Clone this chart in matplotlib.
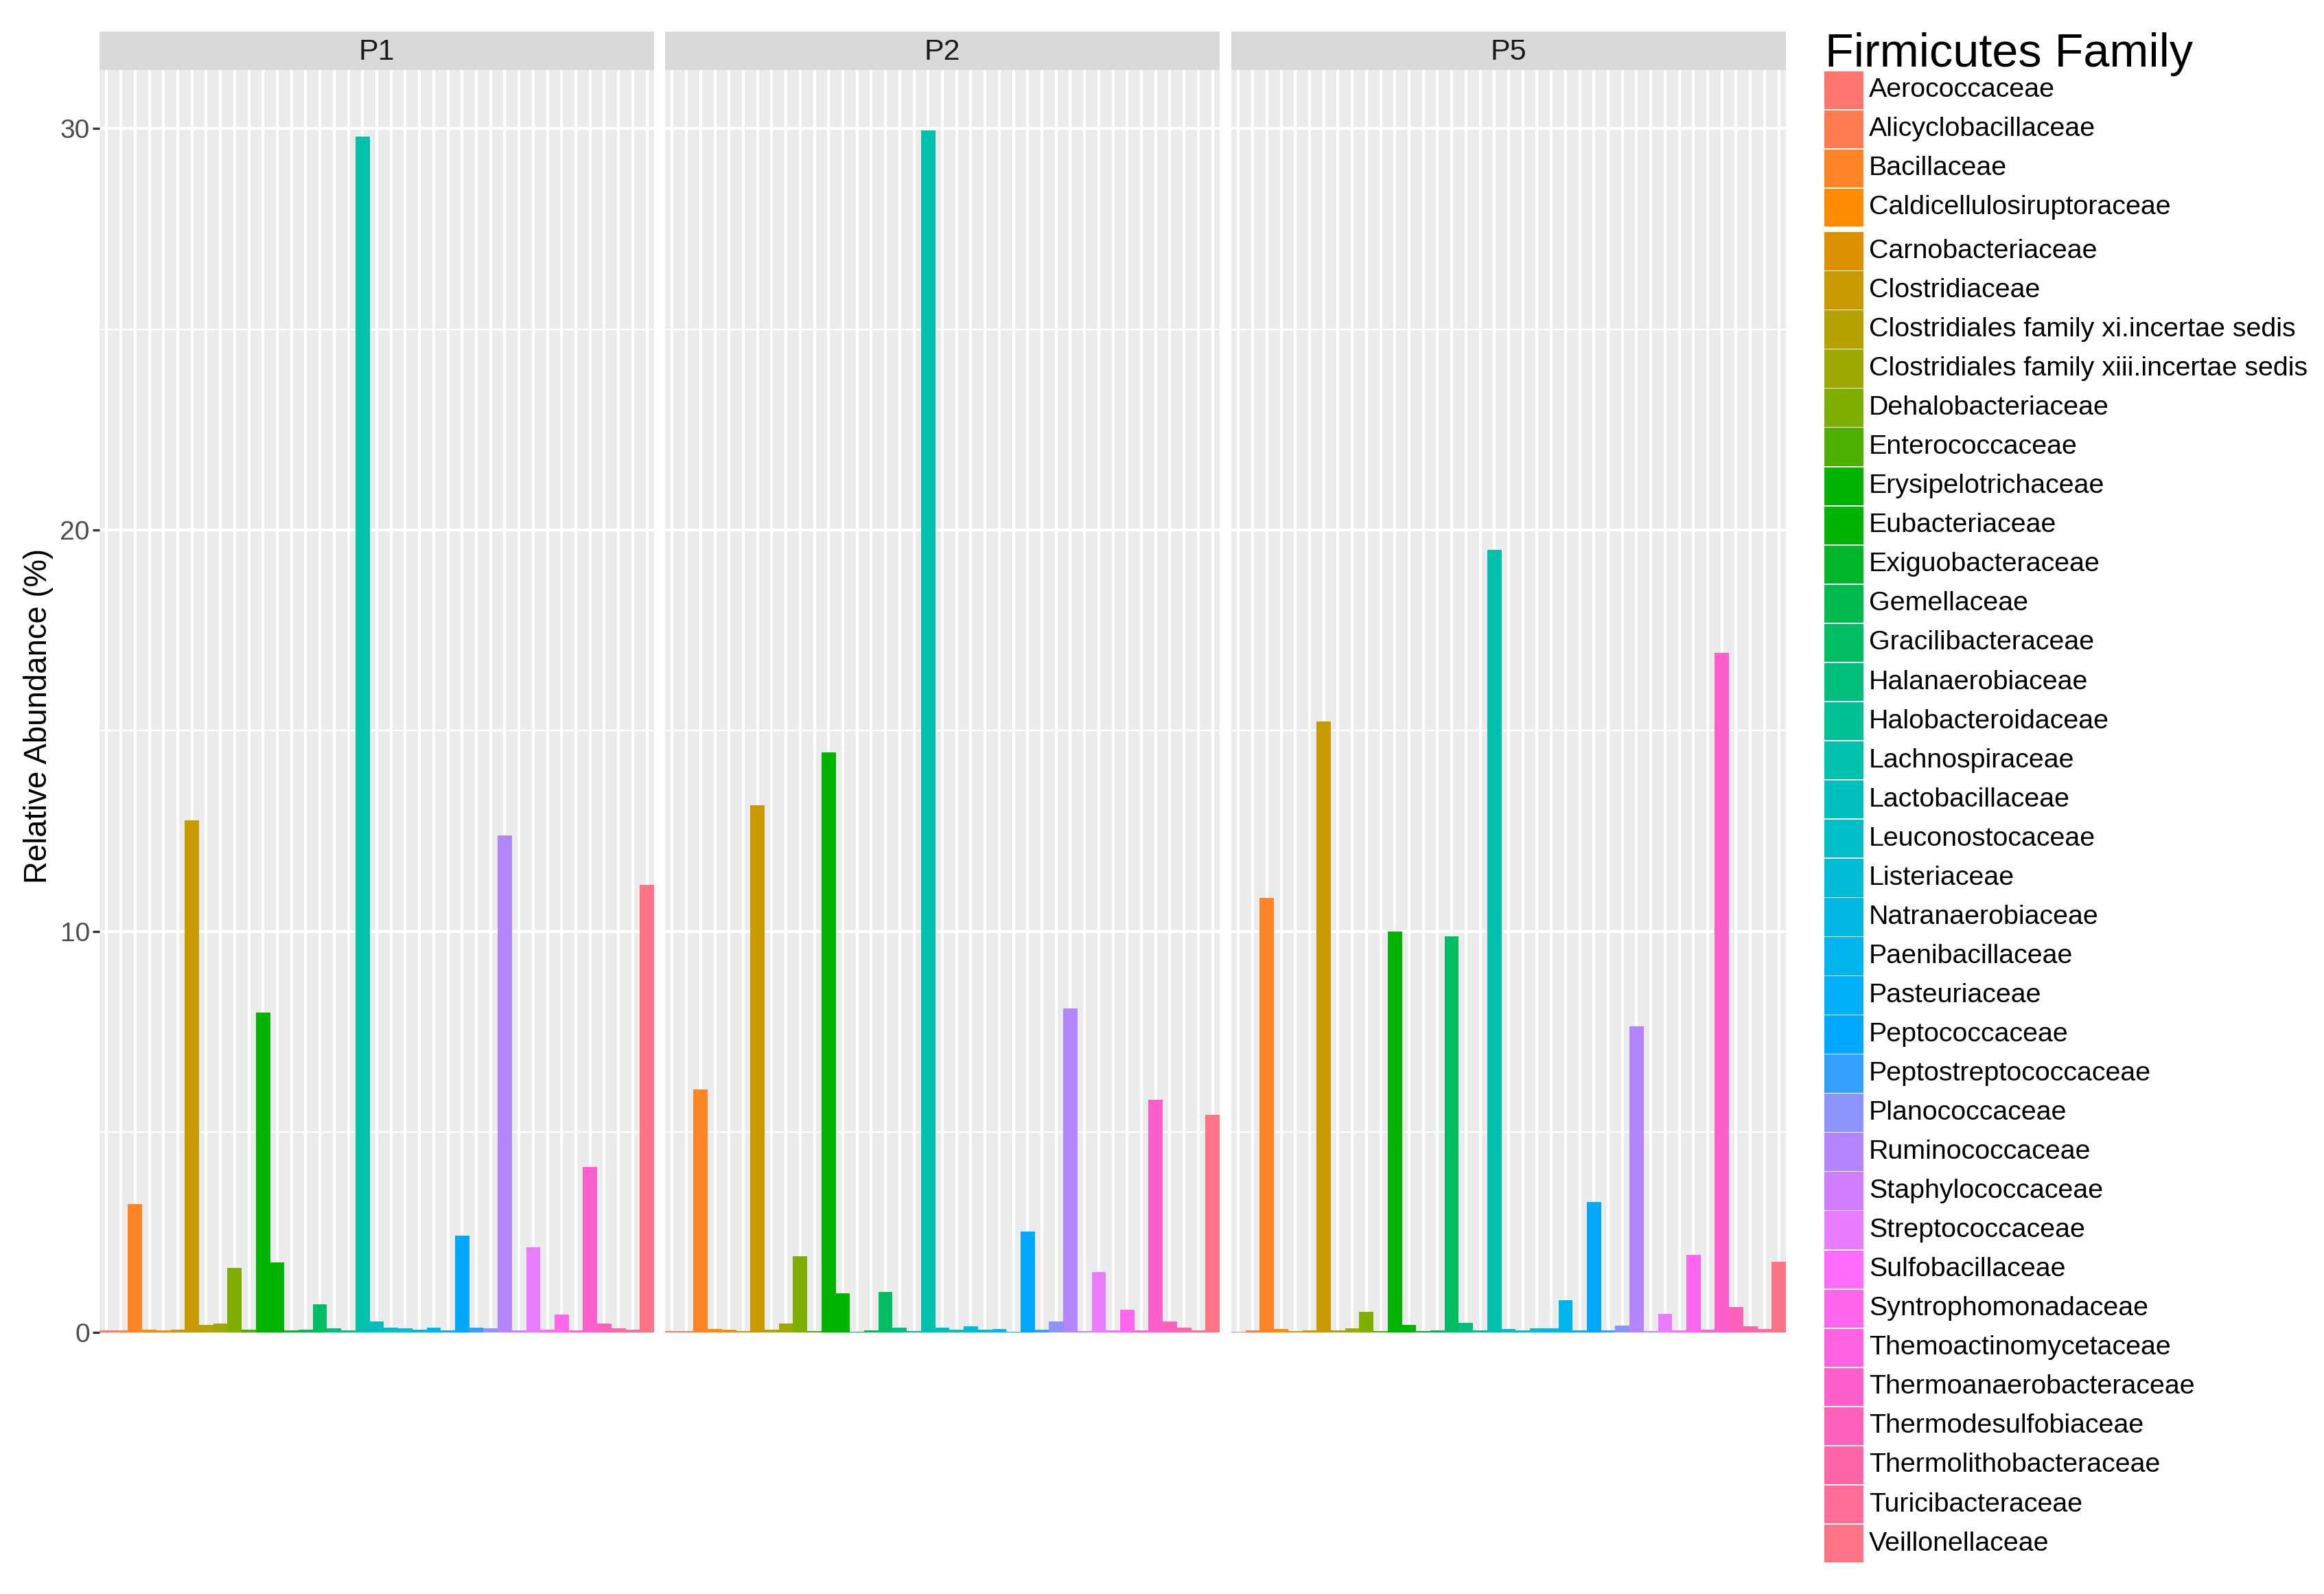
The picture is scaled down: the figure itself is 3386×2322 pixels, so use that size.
import numpy as np
import matplotlib
matplotlib.use("Agg")
import matplotlib.pyplot as plt
from matplotlib.patches import Rectangle

plt.rcParams['font.family'] = ['Liberation Sans', 'DejaVu Sans']

# legend families (fill levels shown in the legend)
families = [
    "Aerococcaceae", "Alicyclobacillaceae", "Bacillaceae", "Caldicellulosiruptoraceae",
    "Carnobacteriaceae", "Clostridiaceae", "Clostridiales family xi.incertae sedis",
    "Clostridiales family xiii.incertae sedis", "Dehalobacteriaceae", "Enterococcaceae",
    "Erysipelotrichaceae", "Eubacteriaceae", "Exiguobacteraceae", "Gemellaceae",
    "Gracilibacteraceae", "Halanaerobiaceae", "Halobacteroidaceae", "Lachnospiraceae",
    "Lactobacillaceae", "Leuconostocaceae", "Listeriaceae", "Natranaerobiaceae",
    "Paenibacillaceae", "Pasteuriaceae", "Peptococcaceae", "Peptostreptococcaceae",
    "Planococcaceae", "Ruminococcaceae", "Staphylococcaceae", "Streptococcaceae",
    "Sulfobacillaceae", "Syntrophomonadaceae", "Themoactinomycetaceae",
    "Thermoanaerobacteraceae", "Thermodesulfobiaceae", "Thermolithobacteraceae",
    "Turicibacteraceae", "Veillonellaceae",
]
family_colors = [
    "#FF766F", "#FF7C50", "#FF8425", "#FF8C00", "#DB9000", "#C89A00", "#B5A100",
    "#9DA800", "#7DAE00", "#4DB000", "#00B400", "#00B400", "#00B72A", "#00BA4D",
    "#00BC63", "#00BE7C", "#00C096", "#00C1AC", "#00BFBF", "#00BFC9", "#00BCD6",
    "#00B9E3", "#00B4EE", "#00AFF8", "#00A8FF", "#33A0FF", "#8B93FF", "#B385FF",
    "#D07EFF", "#E87BFF", "#FF6BFA", "#FF66EE", "#FF62E0", "#FF5FCD", "#FF62BA",
    "#FF66A8", "#FF6C97", "#FF7386",
]
# x levels on the axis: one unlabelled level sits after Caldicellulosiruptoraceae
x_levels = families[:4] + [""] + families[4:]
x_colors = family_colors[:4] + ["#EE8E00"] + family_colors[4:]

panels = ["P1", "P2", "P5"]

p1 = [0.06, 0.06, 3.2, 0.08, 0.06, 0.08, 12.76, 0.19, 0.23, 1.62,
      0.08, 7.98, 1.75, 0.06, 0.08, 0.71, 0.10, 0.06, 29.8, 0.27,
      0.13, 0.10, 0.08, 0.13, 0.06, 2.42, 0.13, 0.11, 12.39, 0.06,
      2.12, 0.08, 0.45, 0.06, 4.12, 0.23, 0.10, 0.08, 11.15]
p2 = [0.03, 0.03, 6.06, 0.09, 0.08, 0.03, 13.14, 0.08, 0.22, 1.9,
      0.03, 14.45, 0.98, 0.02, 0.06, 1.02, 0.13, 0.04, 29.95, 0.13,
      0.07, 0.15, 0.07, 0.09, 0.02, 2.52, 0.07, 0.28, 8.07, 0.04,
      1.51, 0.06, 0.57, 0.06, 5.81, 0.28, 0.13, 0.06, 5.42]
p5 = [0.02, 0.05, 10.84, 0.09, 0.03, 0.05, 15.23, 0.06, 0.10, 0.52,
      0.04, 9.99, 0.20, 0.03, 0.06, 9.88, 0.24, 0.06, 19.51, 0.09,
      0.06, 0.10, 0.10, 0.81, 0.06, 3.25, 0.06, 0.17, 7.64, 0.04,
      0.46, 0.06, 1.94, 0.08, 16.93, 0.63, 0.15, 0.09, 1.77]
values = [p1, p2, p5]

y_ticks = [0, 10, 20, 30]

W, H = 3387, 2322
fig = plt.figure(figsize=(W / 200, H / 200), dpi=200)

panel_left = [145, 969, 1794]
panel_w = 808
top_px, bottom_px, strip_px = 102, 1943, 56

n = len(x_levels)
xpos = np.arange(n)
for k, name in enumerate(panels):
    left = panel_left[k] / W
    ax = fig.add_axes([left, 1 - bottom_px / H, panel_w / W, (bottom_px - top_px) / H])
    ax.set_facecolor('#EBEBEB')
    ax.bar(xpos, values[k], width=1.0, color=x_colors, edgecolor='none', zorder=3)
    ax.set_xlim(-0.5, n - 0.5)
    ax.set_ylim(-0.03, 31.46)
    ax.set_xticks(xpos)
    ax.set_xticklabels([])
    ax.tick_params(axis='x', length=0)
    ax.set_yticks(y_ticks)
    ax.set_yticks([5, 15, 25], minor=True)
    ax.grid(True, which='major', color='white', linewidth=1.5, zorder=1)
    ax.grid(True, which='minor', axis='y', color='white', linewidth=0.8, zorder=1)
    for s in ax.spines.values():
        s.set_visible(False)
    if k == 0:
        ax.tick_params(axis='y', which='major', length=3.6, width=1.2, color='#333333',
                       labelsize=14, labelcolor='#4D4D4D', pad=1.5)
    else:
        ax.tick_params(axis='y', which='major', length=0, labelleft=False)
    ax.tick_params(axis='y', which='minor', length=0)

    sax = fig.add_axes([left, 1 - top_px / H, panel_w / W, strip_px / H])
    sax.set_facecolor('#D9D9D9')
    sax.set_xticks([])
    sax.set_yticks([])
    for s in sax.spines.values():
        s.set_visible(False)
    sax.text(0.5, 0.47, name, ha='center', va='center', fontsize=15.5, color='#1A1A1A',
             transform=sax.transAxes)

fig.text(56 / W, 1 - 1043 / H, 'Relative Abundance (%)', rotation=90, ha='center',
         va='center', fontsize=16.4, color='black')

# legend drawn in pixel coordinates
lax = fig.add_axes([2640 / W, 0, (W - 2640) / W, 1])
lax.set_xlim(2640, W)
lax.set_ylim(H, 0)
lax.axis('off')
lax.text(2659, 97, 'Firmicutes Family', fontsize=24.6, va='baseline', ha='left', color='black')
key_top, pitch, key_h = 103.5, 57.05, 55.5
for i, (fam, col) in enumerate(zip(families, family_colors)):
    y0 = key_top + i * pitch + (6.5 if i >= 4 else 0)
    lax.add_patch(Rectangle((2658, y0), 57, key_h, facecolor=col, edgecolor='none'))
    lax.text(2723, y0 + key_h / 2, fam, fontsize=14.2, va='center', ha='left', color='black')

fig.savefig('out.png', dpi=200, facecolor='white')
